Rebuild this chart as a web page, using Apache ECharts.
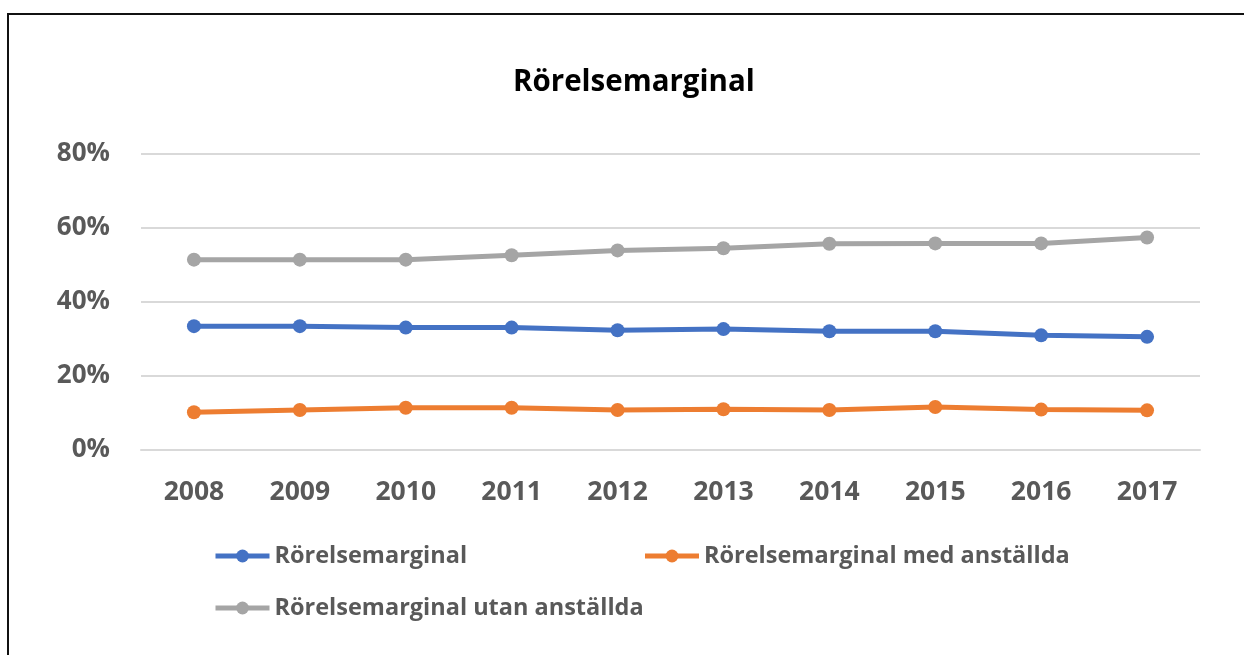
<!DOCTYPE html>
<html>
<head>
<meta charset="utf-8">
<script src="https://cdn.jsdelivr.net/npm/echarts@6/dist/echarts.min.js"></script>
<style>
	html, body { margin:0; padding:0; background:#fff; }
	#wrap { position:relative; width:1244px; height:655px; }
	#frame { position:absolute; left:7px; top:13px; right:0; bottom:0; border-left:2px solid #111; border-top:2px solid #111; }
	#chart { position:absolute; left:0; top:0; width:1244px; height:655px; }
</style>
</head>
<body>
<div id="wrap">
	<div id="frame"></div>
	<div id="chart"></div>
</div>
<script>
// årtal på x-axeln
var years = ['2008', '2009', '2010', '2011', '2012', '2013', '2014', '2015', '2016', '2017'];

// värden i procent
var rorelsemarginal = [33.4, 33.4, 33.0, 33.0, 32.3, 32.6, 32.0, 32.0, 30.9, 30.5];
var medAnstallda = [10.1, 10.7, 11.3, 11.3, 10.7, 10.9, 10.7, 11.5, 10.8, 10.6];
var utanAnstallda = [51.4, 51.4, 51.4, 52.6, 53.9, 54.5, 55.7, 55.8, 55.8, 57.4];

var seriesNames = ['Rörelsemarginal', 'Rörelsemarginal med anställda', 'Rörelsemarginal utan anställda'];
var seriesColors = ['#4472C4', '#ED7D31', '#A5A5A5'];

var labelFont = '"Open Sans", "Noto Sans", sans-serif';

var makeSeries = function(name, data, color){
	return {
		name:name,
		type:'line',
		data:data,
		symbol:'circle',
		symbolSize:14,
		lineStyle:{ width:5, color:color },
		itemStyle:{ color:color },
		z:3
	};
};

var chart = echarts.init( document.getElementById( 'chart' ), null, { renderer:'canvas' } );

chart.setOption( {
	animation:false,
	title:{
		text:'Rörelsemarginal',
		left:508,
		top:63,
		textStyle:{
			fontFamily:labelFont,
			fontSize:29.5,
			fontWeight:'bold',
			color:'#000'
		}
	},
	grid:{
		left:141,
		right:44,
		top:154,
		bottom:205.5,
		containLabel:false
	},
	legend:{
		left:208,
		top:525,
		width:1000,
		itemGap:0,
		itemWidth:54,
		itemHeight:16,
		lineStyle:{ width:5 },
		data:seriesNames,
		textStyle:{
			fontFamily:labelFont,
			fontSize:23.5,
			fontWeight:'bold',
			color:'#595959',
			width:368,
			lineHeight:52
		}
	},
	xAxis:{
		type:'category',
		data:years,
		boundaryGap:true,
		axisLine:{ lineStyle:{ color:'#D9D9D9', width:2 } },
		axisTick:{ show:false },
		axisLabel:{
			margin:29,
			fontFamily:labelFont,
			fontSize:26.5,
			fontWeight:'bold',
			color:'#595959'
		}
	},
	yAxis:{
		type:'value',
		min:0,
		max:80,
		interval:20,
		axisLine:{ show:false },
		axisTick:{ show:false },
		splitLine:{ lineStyle:{ color:'#D9D9D9', width:2 } },
		axisLabel:{
			margin:31,
			formatter:'{value}%',
			fontFamily:labelFont,
			fontSize:26,
			fontWeight:'bold',
			color:'#595959'
		}
	},
	series:[
		makeSeries( seriesNames[0], rorelsemarginal, seriesColors[0] ),
		makeSeries( seriesNames[1], medAnstallda, seriesColors[1] ),
		makeSeries( seriesNames[2], utanAnstallda, seriesColors[2] )
	]
} );
</script>
</body>
</html>
